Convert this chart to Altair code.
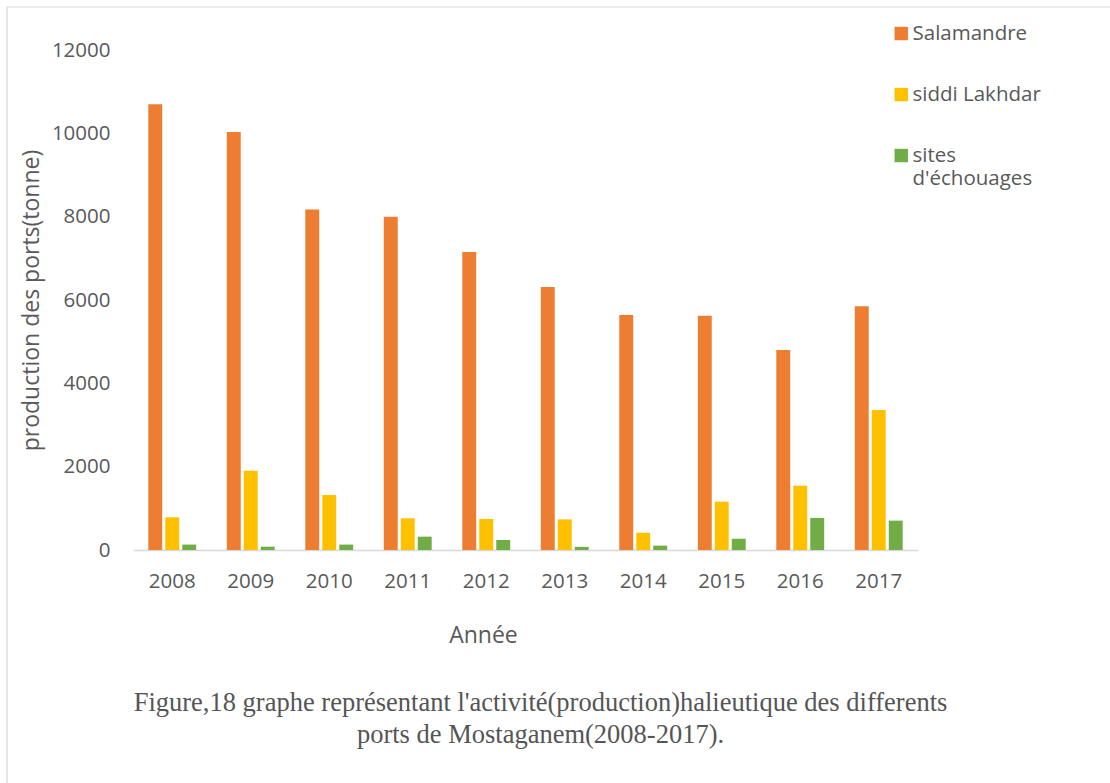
import altair as alt
import pandas as pd

# Annual fish landings (tonnes) of the three landing places, 2008-2017
years = ["2008", "2009", "2010", "2011", "2012", "2013", "2014", "2015", "2016", "2017"]
ports = ["Salamandre", "siddi Lakhdar", "sites d'échouages"]
salamandre = [10700, 10030, 8170, 8000, 7150, 6310, 5640, 5620, 4800, 5850]
siddi_lakhdar = [785, 1900, 1320, 760, 745, 735, 415, 1160, 1540, 3360]
sites_echouages = [130, 80, 130, 320, 240, 75, 105, 270, 770, 705]
port_colors = ["#ED7D31", "#FFC000", "#70AD47"]
y_ticks = [0, 2000, 4000, 6000, 8000, 10000, 12000]

caption = [
    "Figure,18 graphe représentant l'activité(production)halieutique des differents",
    "ports de Mostaganem(2008-2017).",
]

rows = []
for port, series in zip(ports, [salamandre, siddi_lakhdar, sites_echouages]):
    for year, value in zip(years, series):
        rows.append({"Année": year, "port": port, "production": value})
df = pd.DataFrame(rows)

text_grey = "#595959"
ui_font = "Open Sans"

bars = alt.Chart(df).mark_bar().encode(
    x=alt.X(
        "Année:N",
        sort=years,
        scale=alt.Scale(paddingInner=0.39, paddingOuter=0.195),
        axis=alt.Axis(
            title="Année",
            labelAngle=0,
            labelPadding=21,
            ticks=False,
            tickSize=0,
            domainColor="#D9D9D9",
            domainWidth=1.5,
            labelFont=ui_font,
            labelFontSize=20.5,
            labelColor=text_grey,
            titleFont=ui_font,
            titleFontSize=23,
            titleFontWeight="normal",
            titleColor=text_grey,
            titleX=350,
            titleY=92,
            titleAlign="center",
            titleBaseline="alphabetic",
        ),
    ),
    xOffset=alt.XOffset(
        "port:N", sort=ports, scale=alt.Scale(paddingInner=0.18, paddingOuter=0)
    ),
    y=alt.Y(
        "production:Q",
        scale=alt.Scale(domain=[0, 12000], nice=False),
        axis=alt.Axis(
            title="production des ports(tonne)",
            values=y_ticks,
            format="d",
            grid=False,
            domain=False,
            ticks=False,
            tickSize=0,
            labelPadding=23,
            labelFont=ui_font,
            labelFontSize=20.5,
            labelColor=text_grey,
            titleFont=ui_font,
            titleFontSize=23,
            titleFontWeight="normal",
            titleColor=text_grey,
            titleAngle=-90,
            titleX=-102,
            titleY=250,
            titleAlign="center",
            titleBaseline="middle",
        ),
    ),
    color=alt.Color(
        "port:N",
        sort=ports,
        scale=alt.Scale(domain=ports, range=port_colors),
        legend=alt.Legend(
            title=None,
            orient="none",
            legendX=758,
            legendY=-20,
            padding=0,
            symbolType="M-1,-2V0H1V-2Z",
            symbolSize=180,
            symbolStrokeWidth=0,
            symbolOpacity=1,
            rowPadding=40,
            labelFont=ui_font,
            labelFontSize=20.5,
            labelColor=text_grey,
            labelBaseline="alphabetic",
            labelOffset=1,
            labelLimit=300,
            labelExpr="indexof(datum.label, 'sites') == 0 ? split(datum.label, ' ') : datum.label",
        ),
    ),
)

# light grey frame around the whole figure
frame = alt.Chart(alt.Data(values=[{}])).mark_rect(
    fillOpacity=0, stroke="#D9D9D9", strokeWidth=1.2
).encode(
    x=alt.value(-126),
    x2=alt.value(1200),
    y=alt.value(-43),
    y2=alt.value(740),
)

chart = (
    alt.layer(frame, bars)
    .properties(
        width=785,
        height=500,
        autosize=alt.AutoSizeParams(type="none"),
        padding={"left": 133, "top": 50, "right": 192, "bottom": 233},
        title=alt.TitleParams(
            text=caption,
            orient="bottom",
            anchor="middle",
            frame="group",
            dx=15,
            offset=-101,
            font="Liberation Serif",
            fontSize=26.5,
            fontWeight="normal",
            color="#555555",
            lineHeight=32,
        ),
    )
    .configure(background="white")
    .configure_view(stroke=None)
)

chart.save("out.html", embed_options={"renderer": "svg", "actions": False})
